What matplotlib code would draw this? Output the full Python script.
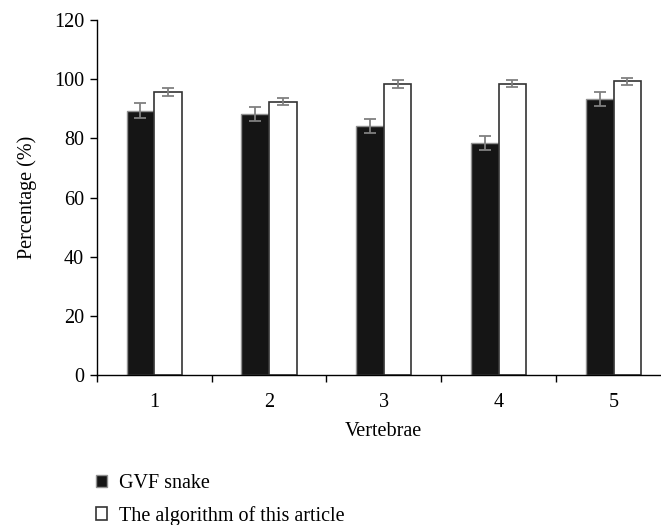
import matplotlib.pyplot as plt
import numpy as np

plt.rcParams['font.family'] = ['Liberation Serif', 'DejaVu Serif']

vertebrae = ['1', '2', '3', '4', '5']
gvf = [89.4, 88.3, 84.2, 78.5, 93.3]
gvf_err = [2.6, 2.4, 2.5, 2.4, 2.5]
ours = [95.6, 92.3, 98.4, 98.5, 99.3]
ours_err = [1.3, 1.2, 1.3, 1.2, 1.2]

fig = plt.figure(figsize=(6.61, 5.25), dpi=100)
ax = fig.add_axes([0.1463, 0.2857, 0.8688, 0.6762])

x = np.arange(1, len(vertebrae) + 1)
w = 0.24
err_kw = dict(ecolor="#808080", elinewidth=1.3, capsize=4, capthick=1.3)
b1 = ax.bar(x - w / 2, gvf, w, yerr=gvf_err, color="#151515", edgecolor="#909090",
            linewidth=1, error_kw=err_kw, label="GVF snake")
b2 = ax.bar(x + w / 2, ours, w, yerr=ours_err, color="white", edgecolor="#333333",
            linewidth=1.2, error_kw=err_kw, label="The algorithm of this article")

fs = 14.5
ax.set_xlim(0.5, 5.5)
ax.set_ylim(0, 120)
ax.set_yticks(range(0, 121, 20))
ax.set_xticks(x)
ax.set_xticklabels(vertebrae)
ax.set_xticks(np.arange(0.5, 5.6, 1), minor=True)
ax.tick_params(axis='x', which='major', length=0, labelsize=fs, pad=13)
ax.tick_params(axis='x', which='minor', length=5, direction='out', width=1)
ax.tick_params(axis='y', length=5, width=1, labelsize=fs, pad=4)

for s in ['top', 'right']:
    ax.spines[s].set_visible(False)
ax.spines['left'].set_linewidth(1)
ax.spines['bottom'].set_linewidth(1)

ax.set_xlabel('Vertebrae', fontsize=fs, labelpad=7)
ax.set_ylabel('Percentage (%)', fontsize=fs, labelpad=12)

fig.legend(handles=[b1, b2], loc='upper left', bbox_to_anchor=(0.133, 0.112),
           frameon=False, fontsize=fs, handlelength=0.55, handleheight=0.55,
           handletextpad=0.6, labelspacing=0.62, borderaxespad=0)

fig.savefig('out.png', dpi=100)
